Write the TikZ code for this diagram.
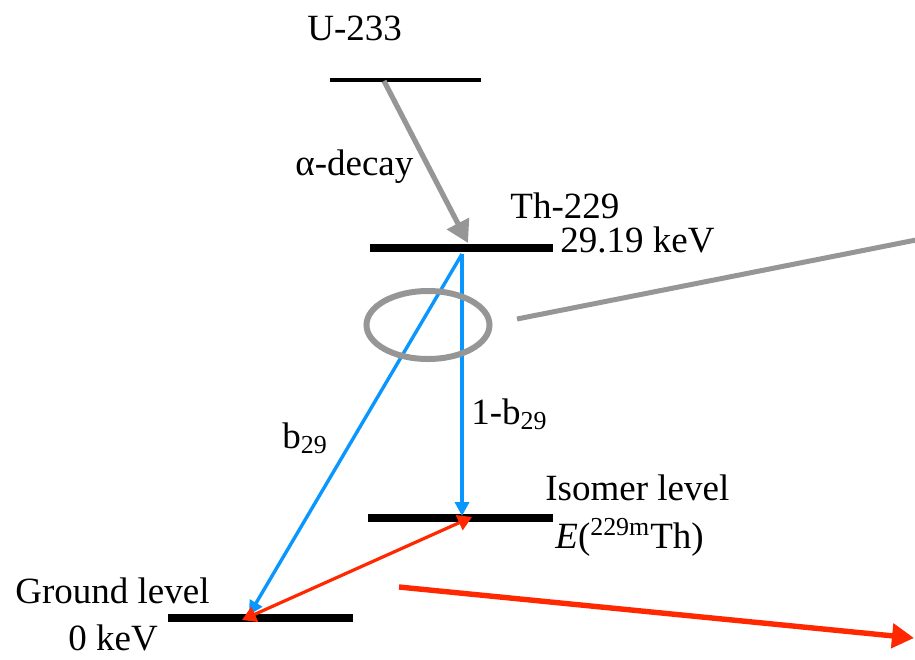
\documentclass[tikz,border=0pt]{standalone}
\usepackage{fontspec}
\setmainfont{Liberation Serif}
\usetikzlibrary{arrows.meta,shapes.geometric}
\definecolor{decaygray}{RGB}{150,150,150}
\definecolor{transblue}{RGB}{10,150,255}
\definecolor{isored}{RGB}{255,40,0}
\tikzset{
  ulvl/.style={line width=2.1pt,black},
  lvl/.style={line width=3.7pt,black},
  adecay/.style={line width=2.6pt,decaygray,-{Triangle[length=11pt,width=12pt]}},
  tline/.style={line width=1.7pt,transblue,-{Triangle[length=7pt,width=7pt]}},
  iline/.style={line width=1.6pt,isored,{Triangle[length=7pt,width=8pt]}-{Triangle[length=7pt,width=8pt]}},
  bigred/.style={line width=2.7pt,isored,-{Triangle[length=11pt,width=12pt]}},
  zline/.style={line width=2.5pt,decaygray},
  ring/.style={ellipse,draw=decaygray,line width=3pt,minimum width=61.5pt,minimum height=34pt,inner sep=0pt},
  lab/.style={font=\fontsize{18.5}{22}\selectfont,anchor=base west,inner sep=0pt}
}
\begin{document}
\begin{tikzpicture}[x=0.5pt,y=-0.5pt]
  \useasboundingbox (0,0) rectangle (915,659);
  % levels
  \coordinate (u-l) at (330,80);  \coordinate (u-r) at (481,80);
  \coordinate (th-l) at (370,248); \coordinate (th-r) at (553,248);
  \coordinate (is-l) at (368,518); \coordinate (is-r) at (553,518);
  \coordinate (gs-l) at (168,618); \coordinate (gs-r) at (353,618);
  \draw[ulvl] (u-l) -- (u-r);
  \draw[lvl] (th-l) -- (th-r);
  \draw[lvl] (is-l) -- (is-r);
  \draw[lvl] (gs-l) -- (gs-r);
  % labels
  \node[lab] (u233) at (307,40) {U-233};
  \node[lab] (adec) at (295,175) {α-decay};
  \node[lab] (th229) at (510,218) {Th-229};
  \node[lab] (eth) at (560,252) {29.19 keV};
  \node[lab] (bb) at (282,448) {b\textsubscript{29}};
  \node[lab] (bb1) at (471,424) {1-b\textsubscript{29}};
  \node[lab] (isolab) at (545,500) {Isomer level};
  \node[lab] (isoen) at (555,548) {\textit{E}(\textsuperscript{229m}Th)};
  \node[lab] (gslab) at (15,603) {Ground level};
  \node[lab] (gsen) at (68,650) {0 keV};
  % transitions
  \coordinate (a-start) at (384,81);
  \coordinate (a-end) at (468,243);
  \draw[adecay] (a-start) -- (a-end);
  \coordinate (b-start) at (462,254);
  \coordinate (b-iso) at (462,516);
  \coordinate (b-gs) at (249,615);
  \draw[tline] (b-start) -- (b-iso);
  \draw[tline] (b-start) -- (b-gs);
  \coordinate (r-gs) at (242,620);
  \coordinate (r-iso) at (472,517);
  \draw[iline] (r-gs) -- (r-iso);
  % zoom marks
  \node[ring] (ring) at (428,325) {};
  \coordinate (z-start) at (517,319);
  \coordinate (z-end) at (916,240);
  \draw[zline] (z-start) -- (z-end);
  \coordinate (rr-start) at (399,587);
  \coordinate (rr-end) at (914,638);
  \draw[bigred] (rr-start) -- (rr-end);
\end{tikzpicture}
\end{document}
